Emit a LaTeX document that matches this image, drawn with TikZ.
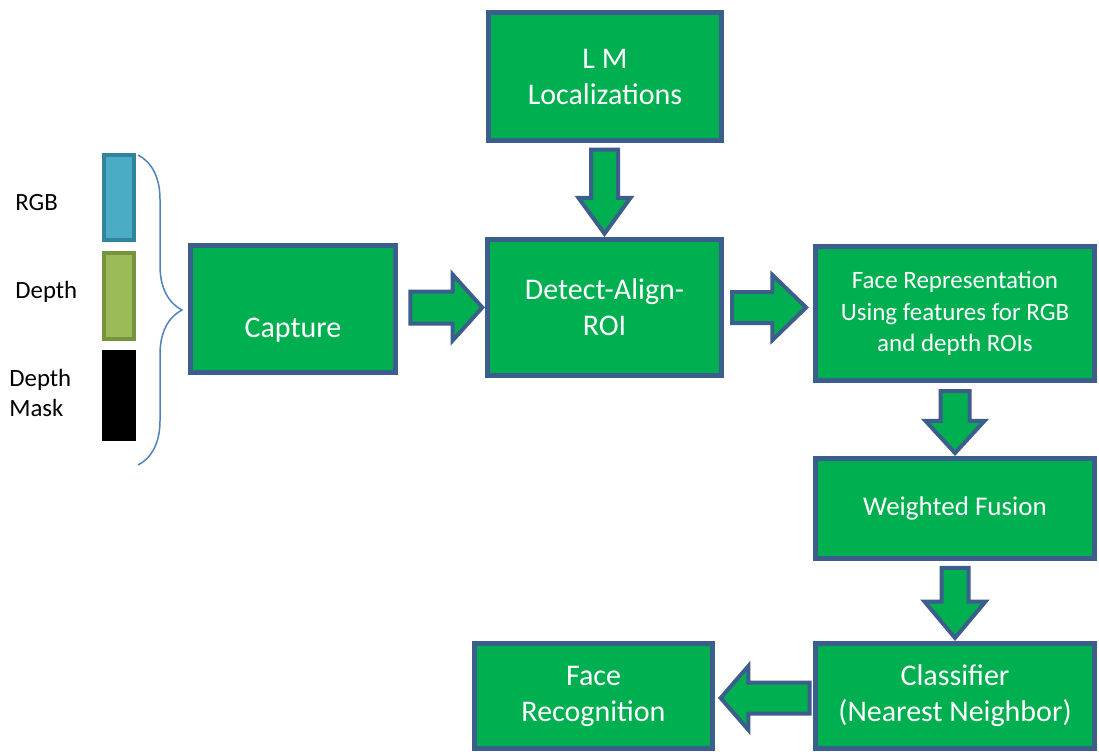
\documentclass[tikz,border=0pt]{standalone}
\usepackage{fontspec}
\setmainfont{Carlito}
\usetikzlibrary{shapes.arrows,decorations.pathreplacing,calc}

\definecolor{boxgreen}{HTML}{00B050}
\definecolor{boxblue}{HTML}{3B5E8C}
\definecolor{rgbfill}{HTML}{4BACC6}
\definecolor{rgbline}{HTML}{31849B}
\definecolor{depfill}{HTML}{9BBB59}
\definecolor{depline}{HTML}{77933C}
\definecolor{bracecol}{HTML}{4F81BD}

\begin{document}
\begin{tikzpicture}[x=0.5pt,y=-0.5pt,
	stage/.style={draw=boxblue, fill=boxgreen, line width=2.5pt, text=white, align=center, inner sep=0pt, font=\fontsize{15}{18}\selectfont},
	fat/.style={single arrow, draw=boxblue, fill=boxgreen, line width=2pt, inner xsep=0pt, anchor=tip},
	chan/.style={line width=2pt, minimum width=15pt, inner sep=0pt},
	chanlabel/.style={anchor=west, align=left, inner sep=0pt, font=\fontsize{12.4}{15}\selectfont}]
	\useasboundingbox (0,0) rectangle (1099,751);

	% input channels
	\node[chan, draw=rgbline, fill=rgbfill, minimum height=42.5pt] (rgb) at (119,197.5) {};
	\node[chan, draw=depline, fill=depfill, minimum height=43pt] (dep) at (119,296) {};
	\node[chan, fill=black, line width=0pt, minimum width=17pt, minimum height=45.5pt] (mask) at (119,395.5) {};
	\node[chanlabel] (rgbtxt) at (15,203) {RGB};
	\node[chanlabel] (deptxt) at (15,292) {Depth};
	\node[chanlabel] (masktxt) at (9,393) {Depth\\Mask};
	\coordinate (bracetop) at (138,155);
	\coordinate (bracebot) at (138,465);
	\draw[bracecol, line width=0.75pt, decorate, decoration={brace, amplitude=22pt}] (bracetop) -- (bracebot);

	% pipeline boxes
	\node[stage, minimum width=116.5pt, minimum height=64pt] (lm) at (605,76.5) {L M\\Localizations};
	\node[stage, minimum width=117pt, minimum height=68pt] (det) at (604.5,307.5) {Detect-Align-\\ROI};
	\node[stage, minimum width=102.5pt, minimum height=63.5pt] (cap) at (293,309) {\strut\\Capture};
	\node[stage, minimum width=139.5pt, minimum height=67pt, font=\fontsize{12.5}{15.75}\selectfont] (rep) at (955,313.5) {Face Representation\\Using features for RGB\\and depth ROIs};
	\node[stage, minimum width=139.5pt, minimum height=50pt, font=\fontsize{13.5}{16}\selectfont] (fus) at (955,508.5) {Weighted Fusion};
	\node[stage, minimum width=139.5pt, minimum height=52.5pt] (cls) at (955,696) {Classifier\\(Nearest Neighbor)};
	\node[stage, minimum width=119pt, minimum height=52.5pt] (rec) at (593.5,696) {Face\\Recognition};

	% block arrows
	\node[fat, minimum height=36pt, minimum width=31pt, inner ysep=7pt, single arrow head extend=8.5pt, single arrow tip angle=96] (a1) at (det.west) {};
	\node[fat, minimum height=37pt, minimum width=30.5pt, inner ysep=6.75pt, single arrow head extend=8.5pt, single arrow tip angle=88] (a2) at ($(rep.west |- det.east)+(-4,0)$) {};
	\node[fat, rotate=-90, minimum height=42pt, minimum width=24pt, inner ysep=5.75pt, single arrow head extend=6.25pt, single arrow tip angle=72] (a3) at (det.north) {};
	\node[fat, rotate=-90, minimum height=31pt, minimum width=27.5pt, inner ysep=6.25pt, single arrow head extend=7.5pt, single arrow tip angle=85] (a4) at (fus.north) {};
	\node[fat, rotate=-90, minimum height=35pt, minimum width=28.5pt, inner ysep=5.75pt, single arrow head extend=8.5pt, single arrow tip angle=80] (a5) at (cls.north) {};
	\node[fat, rotate=180, minimum height=44.5pt, minimum width=30pt, inner ysep=6.75pt, single arrow head extend=8.25pt, single arrow tip angle=98] (a6) at ($(rec.east)+(3,2)$) {};
\end{tikzpicture}
\end{document}
